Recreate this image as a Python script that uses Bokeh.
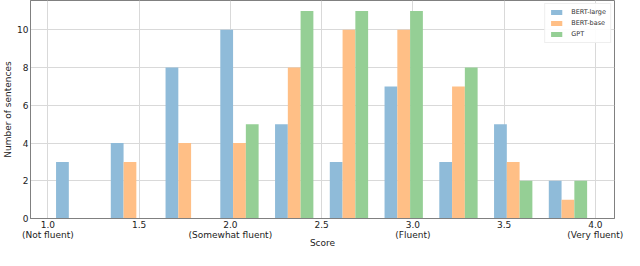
from bokeh.plotting import figure
from bokeh.models import ColumnDataSource, FixedTicker, Legend, LegendItem, Range1d
from bokeh.embed import file_html
from bokeh.resources import INLINE

# Data
bin_starts = [1.0, 1.3, 1.6, 1.9, 2.2, 2.5, 2.8, 3.1, 3.4, 3.7]
bin_width = 0.3
series_names = ["BERT-large", "BERT-base", "GPT"]
bert_large = [3, 4, 8, 10, 5, 3, 7, 3, 5, 2]
bert_base = [0, 3, 4, 4, 8, 10, 10, 7, 3, 1]
gpt = [0, 0, 0, 5, 11, 11, 11, 8, 2, 2]
x_ticks = [1.0, 1.5, 2.0, 2.5, 3.0, 3.5, 4.0]
x_tick_labels = ["1.0\n(Not fluent)", "1.5", "2.0\n(Somewhat fluent)", "2.5",
                 "3.0\n(Fluent)", "3.5", "4.0\n(Very fluent)"]
x_title = "Score"
y_title = "Number of sentences"
y_ticks = [0, 2, 4, 6, 8, 10]
colors = ["#8fbbd9", "#ffbf86", "#95cf95"]

FONT = "DejaVu Sans"
TXT = "#222222"

p = figure(width=624, height=250, output_backend="svg", toolbar_location=None,
           x_range=Range1d(0.905, 4.105), y_range=Range1d(0, 11.55),
           min_border_top=0, min_border_right=10, min_border_left=0, min_border_bottom=0)

centers = [s + bin_width / 2 for s in bin_starts]
bar_w = 0.07
offsets = [-bar_w, 0.0, bar_w]
renderers = []
for vals, off, col in zip([bert_large, bert_base, gpt], offsets, colors):
    src = ColumnDataSource(dict(x=[c + off for c in centers], top=vals))
    r = p.vbar(x="x", top="top", width=bar_w, bottom=0, source=src,
               fill_color=col, line_color=None)
    renderers.append(r)

legend = Legend(items=[LegendItem(label=n, renderers=[r]) for n, r in zip(series_names, renderers)],
                location="top_right")
legend.label_text_font = FONT
legend.label_text_font_size = "6.5px"
legend.label_text_color = "#333333"
legend.glyph_width = 14
legend.glyph_height = 6
legend.label_height = 6
legend.spacing = 3
legend.padding = 4
legend.margin = 3
legend.label_standoff = 8
legend.border_line_color = "#dddddd"
legend.background_fill_alpha = 0.9
p.add_layout(legend)

p.xaxis.ticker = FixedTicker(ticks=x_ticks)
p.xaxis.major_label_overrides = {t: l for t, l in zip(x_ticks, x_tick_labels)}
p.yaxis.ticker = FixedTicker(ticks=y_ticks)
p.xaxis.axis_label = x_title
p.yaxis.axis_label = y_title

for ax in (p.xaxis, p.yaxis):
    ax.major_label_text_font = FONT
    ax.major_label_text_font_size = "9px"
    ax.major_label_text_color = TXT
    ax.axis_label_text_font = FONT
    ax.axis_label_text_font_size = "9px"
    ax.axis_label_text_font_style = "normal"
    ax.axis_label_text_color = TXT
    ax.axis_label_standoff = 1
    ax.major_label_standoff = 2
    ax.major_tick_out = 0
    ax.major_tick_in = 0
    ax.minor_tick_out = 0
    ax.minor_tick_in = 0
    ax.axis_line_color = "#808080"
    ax.axis_line_width = 1
p.xaxis.major_label_text_line_height = 1.0
p.xaxis.axis_label_text_line_height = 0.6
p.xaxis.major_label_standoff = 1
p.xaxis.axis_label_standoff = -5

p.xgrid.ticker = FixedTicker(ticks=x_ticks)
p.ygrid.ticker = FixedTicker(ticks=y_ticks)
p.grid.grid_line_color = "#d9d9d9"
p.grid.grid_line_width = 1
p.outline_line_color = "#808080"
p.outline_line_width = 1

open("out.html", "w").write(file_html(p, INLINE))
